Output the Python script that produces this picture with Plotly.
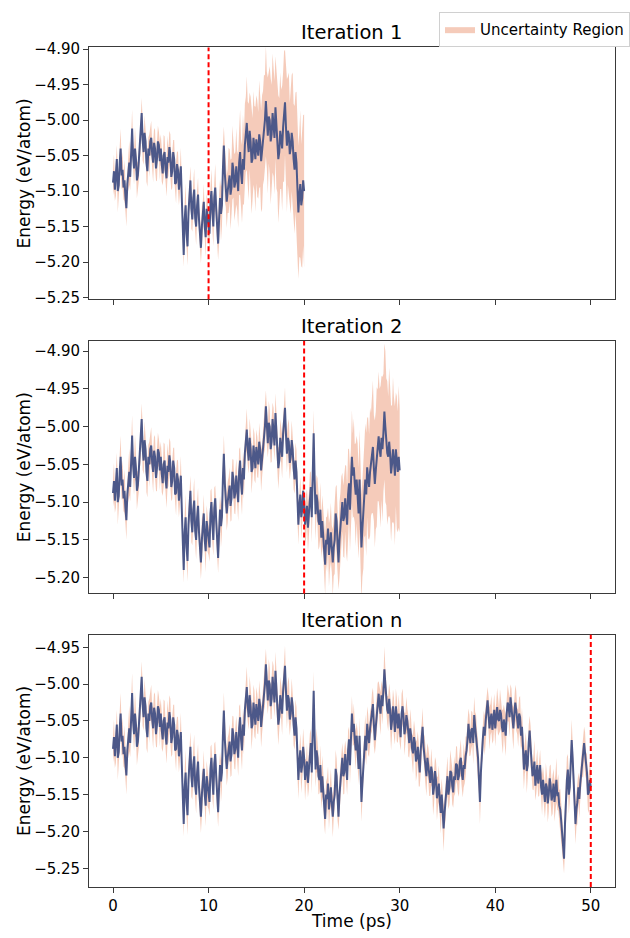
import plotly.graph_objects as go

# ---------------- data ----------------
dt = 0.1  # ps sampling of the digitised trajectory

energy_mean = [
    -5.088, -5.072, -5.098, -5.080, -5.055, -5.100, -5.092, -5.060, -5.040, -5.078,
    -5.070, -5.095, -5.085, -5.108, -5.124, -5.090, -5.072, -5.060, -5.080, -5.045,
    -5.012, -5.050, -5.068, -5.040, -5.055, -5.085, -5.078, -5.058, -5.040, -5.022,
    -4.990, -5.028, -5.045, -5.018, -5.030, -5.060, -5.072, -5.040, -5.050, -5.030,
    -5.025, -5.048, -5.060, -5.032, -5.040, -5.068, -5.055, -5.030, -5.035, -5.058,
    -5.040, -5.062, -5.075, -5.050, -5.045, -5.070, -5.082, -5.052, -5.060, -5.038,
    -5.048, -5.080, -5.072, -5.045, -5.055, -5.090, -5.088, -5.062, -5.070, -5.098,
    -5.085, -5.065, -5.110, -5.150, -5.190, -5.140, -5.120, -5.160, -5.178, -5.130,
    -5.100, -5.085, -5.125, -5.140, -5.110, -5.098, -5.138, -5.150, -5.120, -5.105,
    -5.140, -5.160, -5.180, -5.150, -5.134, -5.115, -5.150, -5.165, -5.125, -5.140,
    -5.147, -5.160, -5.115, -5.100, -5.130, -5.150, -5.108, -5.095, -5.125, -5.150,
    -5.174, -5.140, -5.110, -5.132, -5.120, -5.070, -5.036, -5.075, -5.090, -5.115,
    -5.100, -5.085, -5.078, -5.105, -5.095, -5.060, -5.070, -5.095, -5.088, -5.065,
    -5.085, -5.100, -5.060, -5.045, -5.075, -5.090, -5.055, -5.070, -5.035, -5.020,
    -5.004, -5.030, -5.045, -5.015, -5.030, -5.060, -5.055, -5.025, -5.040, -5.055,
    -5.027, -5.040, -5.050, -5.020, -5.030, -5.058, -5.045, -5.025, -5.010, -5.000,
    -4.973, -5.000, -5.022, -4.995, -5.000, -5.030, -5.020, -4.990, -5.005, -5.025,
    -4.982, -5.012, -5.030, -5.055, -5.045, -5.015, -5.027, -5.040, -5.010, -4.995,
    -4.975, -5.010, -5.036, -5.015, -5.020, -5.048, -5.040, -5.018, -5.030, -5.055,
    -5.070, -5.045, -5.060, -5.095, -5.130, -5.105, -5.090, -5.120, -5.110, -5.085,
    -5.100, -5.130, -5.120, -5.105, -5.134, -5.115, -5.090, -5.080, -5.120, -5.060,
    -5.009, -5.070, -5.116, -5.090, -5.100, -5.125, -5.130, -5.110, -5.147, -5.125,
    -5.140, -5.165, -5.183, -5.150, -5.156, -5.135, -5.170, -5.155, -5.140, -5.162,
    -5.180, -5.160, -5.150, -5.115, -5.125, -5.155, -5.180, -5.150, -5.130, -5.112,
    -5.100, -5.125, -5.120, -5.095, -5.110, -5.130, -5.090, -5.075, -5.110, -5.080,
    -5.040, -5.065, -5.054, -5.075, -5.090, -5.070, -5.094, -5.115, -5.070, -5.120,
    -5.160, -5.135, -5.110, -5.085, -5.070, -5.090, -5.054, -5.068, -5.080, -5.060,
    -5.050, -5.038, -5.027, -5.055, -5.076, -5.058, -5.040, -5.025, -5.013, -5.030,
    -5.040, -5.015, -5.030, -5.008, -4.980, -5.000, -5.020, -5.035, -5.040, -5.020,
    -5.036, -5.062, -5.050, -5.030, -5.045, -5.065, -5.030, -5.048, -5.060, -5.040,
    -5.058, -5.072, -5.040, -5.030, -5.045, -5.068, -5.060, -5.042, -5.050, -5.070,
    -5.080, -5.060, -5.070, -5.088, -5.094, -5.072, -5.080, -5.105, -5.100, -5.085,
    -5.110, -5.120, -5.090, -5.075, -5.058, -5.085, -5.100, -5.115, -5.125, -5.100,
    -5.110, -5.125, -5.134, -5.112, -5.120, -5.150, -5.140, -5.118, -5.130, -5.155,
    -5.147, -5.135, -5.160, -5.175, -5.150, -5.168, -5.196, -5.175, -5.160, -5.140,
    -5.125, -5.150, -5.140, -5.118, -5.120, -5.138, -5.147, -5.125, -5.130, -5.108,
    -5.110, -5.130, -5.125, -5.105, -5.100, -5.122, -5.130, -5.110, -5.115, -5.098,
    -5.090, -5.075, -5.054, -5.070, -5.080, -5.062, -5.060, -5.080, -5.042, -5.058,
    -5.070, -5.085, -5.100, -5.130, -5.160, -5.120, -5.090, -5.075, -5.058, -5.070,
    -5.050, -5.035, -5.022, -5.040, -5.060, -5.048, -5.040, -5.062, -5.049, -5.035,
    -5.060, -5.045, -5.031, -5.048, -5.050, -5.035, -5.040, -5.058, -5.065, -5.048,
    -5.058, -5.070, -5.040, -5.025, -5.030, -5.045, -5.018, -5.032, -5.050, -5.060,
    -5.040, -5.025, -5.036, -5.050, -5.060, -5.040, -5.045, -5.070, -5.058, -5.085,
    -5.116, -5.100, -5.090, -5.118, -5.110, -5.080, -5.063, -5.085, -5.100, -5.125,
    -5.120, -5.105, -5.138, -5.122, -5.110, -5.135, -5.125, -5.110, -5.140, -5.150,
    -5.130, -5.148, -5.160, -5.135, -5.140, -5.162, -5.150, -5.128, -5.138, -5.158,
    -5.150, -5.135, -5.160, -5.145, -5.130, -5.152, -5.147, -5.165, -5.170, -5.185,
    -5.200, -5.215, -5.237, -5.190, -5.150, -5.130, -5.116, -5.150, -5.140, -5.105,
    -5.076, -5.100, -5.130, -5.165, -5.190, -5.170, -5.160, -5.140, -5.156, -5.135,
    -5.120, -5.105, -5.100, -5.080, -5.094, -5.110, -5.120, -5.150, -5.147, -5.130,
    -5.140,
]

# half-width of the uncertainty band in the final (well-sampled) iteration
unc_n = [
    0.018, 0.024, 0.016, 0.027, 0.020, 0.030, 0.017, 0.023, 0.028, 0.019,
    0.025, 0.017, 0.029, 0.021, 0.026, 0.016, 0.024, 0.031, 0.019, 0.022,
    0.027, 0.018, 0.023, 0.030, 0.017, 0.025, 0.020, 0.028, 0.016, 0.024,
    0.021, 0.029, 0.018, 0.025, 0.019, 0.027, 0.022, 0.016, 0.030, 0.020,
    0.024, 0.018, 0.028, 0.021, 0.026, 0.017, 0.031, 0.022, 0.019, 0.027,
    0.020, 0.025, 0.017, 0.029, 0.022, 0.018, 0.026, 0.030, 0.019, 0.023,
    0.028, 0.019, 0.024, 0.017, 0.027, 0.021, 0.030, 0.018, 0.025, 0.022,
    0.019, 0.026, 0.021, 0.029, 0.017, 0.024, 0.031, 0.020, 0.027, 0.018,
    0.025, 0.020, 0.028, 0.017, 0.023, 0.030, 0.019, 0.026, 0.021, 0.024,
    0.018, 0.027, 0.022, 0.029, 0.019, 0.025, 0.017, 0.028, 0.021, 0.026,
    0.023, 0.019, 0.030, 0.018, 0.025, 0.021, 0.027, 0.017, 0.024, 0.029,
    0.020, 0.026, 0.018, 0.028, 0.022, 0.016, 0.025, 0.030, 0.019, 0.023,
    0.027, 0.018, 0.024, 0.021, 0.029, 0.017, 0.026, 0.020, 0.028, 0.022,
    0.019, 0.025, 0.030, 0.018, 0.023, 0.027, 0.020, 0.026, 0.017, 0.024,
    0.028, 0.021, 0.017, 0.026, 0.022, 0.029, 0.019, 0.024, 0.031, 0.020,
    0.023, 0.027, 0.018, 0.025, 0.020, 0.028, 0.022, 0.017, 0.026, 0.030,
    0.021, 0.025, 0.019, 0.029, 0.023, 0.018, 0.027, 0.022, 0.030, 0.020,
    0.026, 0.018, 0.024, 0.028, 0.017, 0.025, 0.021, 0.029, 0.019, 0.023,
    0.027, 0.020, 0.025, 0.018, 0.030, 0.022, 0.017, 0.026, 0.021, 0.028,
    0.019, 0.024, 0.029, 0.021, 0.026, 0.017, 0.023, 0.028, 0.020, 0.025,
    0.022, 0.028, 0.018, 0.025, 0.020, 0.027, 0.023, 0.019, 0.029, 0.021,
    0.026, 0.017, 0.024, 0.030, 0.020, 0.025, 0.018, 0.027, 0.022, 0.028,
    0.020, 0.026, 0.021, 0.017, 0.029, 0.023, 0.027, 0.019, 0.025, 0.018,
    0.028, 0.022, 0.019, 0.026, 0.024, 0.030, 0.018, 0.025, 0.021, 0.027,
    0.020, 0.025, 0.029, 0.018, 0.023, 0.021, 0.027, 0.017, 0.026, 0.022,
    0.024, 0.019, 0.028, 0.022, 0.026, 0.018, 0.030, 0.021, 0.025, 0.020,
    0.027, 0.021, 0.017, 0.025, 0.029, 0.020, 0.024, 0.028, 0.019, 0.023,
    0.018, 0.026, 0.022, 0.030, 0.019, 0.025, 0.021, 0.027, 0.017, 0.024,
    0.029, 0.020, 0.025, 0.018, 0.031, 0.022, 0.026, 0.019, 0.024, 0.021,
    0.025, 0.028, 0.019, 0.023, 0.027, 0.017, 0.024, 0.030, 0.020, 0.026,
    0.022, 0.018, 0.027, 0.024, 0.019, 0.029, 0.021, 0.025, 0.017, 0.028,
    0.020, 0.026, 0.022, 0.018, 0.028, 0.023, 0.019, 0.027, 0.024, 0.021,
    0.029, 0.019, 0.025, 0.021, 0.026, 0.018, 0.030, 0.022, 0.027, 0.020,
    0.024, 0.027, 0.018, 0.025, 0.020, 0.028, 0.023, 0.019, 0.026, 0.030,
    0.021, 0.025, 0.019, 0.028, 0.022, 0.026, 0.031, 0.020, 0.024, 0.018,
    0.027, 0.020, 0.024, 0.029, 0.018, 0.025, 0.021, 0.027, 0.019, 0.023,
    0.026, 0.018, 0.028, 0.021, 0.025, 0.019, 0.024, 0.030, 0.020, 0.027,
    0.019, 0.024, 0.021, 0.028, 0.017, 0.026, 0.022, 0.029, 0.025, 0.020,
    0.028, 0.021, 0.025, 0.019, 0.030, 0.023, 0.018, 0.026, 0.022, 0.027,
    0.020, 0.027, 0.018, 0.024, 0.029, 0.021, 0.025, 0.019, 0.028, 0.022,
    0.025, 0.019, 0.026, 0.022, 0.017, 0.028, 0.021, 0.024, 0.030, 0.020,
    0.023, 0.028, 0.019, 0.025, 0.021, 0.027, 0.018, 0.026, 0.022, 0.029,
    0.020, 0.024, 0.027, 0.018, 0.025, 0.022, 0.029, 0.019, 0.026, 0.021,
    0.027, 0.021, 0.025, 0.030, 0.019, 0.024, 0.020, 0.028, 0.023, 0.018,
    0.024, 0.029, 0.020, 0.026, 0.022, 0.018, 0.027, 0.021, 0.025, 0.028,
    0.019, 0.025, 0.022, 0.028, 0.020, 0.026, 0.023, 0.017, 0.029, 0.022,
    0.026, 0.020, 0.027, 0.023, 0.030, 0.019, 0.025, 0.021, 0.028, 0.024,
    0.022, 0.027, 0.020, 0.029, 0.024, 0.031, 0.021, 0.026, 0.019, 0.025,
    0.028, 0.021, 0.025, 0.019, 0.027, 0.023, 0.030, 0.020, 0.026, 0.022,
    0.024, 0.020, 0.027, 0.022, 0.029, 0.018, 0.025, 0.021, 0.028, 0.023,
    0.024,
]

# wider band where iteration 1 had not yet been explored (t = 10.1 .. 20.0 ps)
unc_iter1_tail = [
    0.026, 0.020, 0.031, 0.024, 0.028, 0.022, 0.033, 0.025, 0.029, 0.023,
    0.034, 0.027, 0.038, 0.030, 0.036, 0.027, 0.040, 0.032, 0.037, 0.031,
    0.046, 0.037, 0.049, 0.041, 0.052, 0.039, 0.047, 0.043, 0.054, 0.042,
    0.052, 0.046, 0.060, 0.048, 0.055, 0.063, 0.050, 0.058, 0.053, 0.066,
    0.056, 0.068, 0.054, 0.063, 0.072, 0.058, 0.066, 0.060, 0.074, 0.062,
    0.068, 0.061, 0.076, 0.064, 0.072, 0.080, 0.066, 0.074, 0.063, 0.078,
    0.068, 0.082, 0.066, 0.076, 0.089, 0.070, 0.084, 0.074, 0.080, 0.072,
    0.084, 0.072, 0.090, 0.076, 0.082, 0.070, 0.088, 0.077, 0.092, 0.074,
    0.080, 0.094, 0.076, 0.087, 0.072, 0.092, 0.082, 0.097, 0.078, 0.090,
    0.084, 0.100, 0.082, 0.094, 0.088, 0.104, 0.086, 0.098, 0.092, 0.108,
]

# wider band where iteration 2 had not yet been explored (t = 20.1 .. 30.0 ps)
unc_iter2_tail = [
    0.024, 0.030, 0.022, 0.033, 0.026, 0.029, 0.021, 0.034, 0.027, 0.031,
    0.028, 0.035, 0.026, 0.032, 0.038, 0.029, 0.036, 0.027, 0.034, 0.030,
    0.033, 0.040, 0.030, 0.037, 0.028, 0.042, 0.034, 0.039, 0.031, 0.044,
    0.038, 0.045, 0.035, 0.048, 0.040, 0.036, 0.050, 0.042, 0.046, 0.039,
    0.047, 0.054, 0.044, 0.058, 0.049, 0.060, 0.046, 0.055, 0.051, 0.062,
    0.056, 0.065, 0.052, 0.068, 0.058, 0.072, 0.060, 0.066, 0.055, 0.070,
    0.064, 0.078, 0.062, 0.074, 0.082, 0.066, 0.080, 0.070, 0.085, 0.068,
    0.076, 0.088, 0.070, 0.084, 0.078, 0.092, 0.074, 0.086, 0.080, 0.094,
    0.082, 0.096, 0.078, 0.090, 0.100, 0.084, 0.095, 0.080, 0.098, 0.086,
    0.090, 0.078, 0.096, 0.084, 0.092, 0.075, 0.088, 0.080, 0.094, 0.082,
]

panel_titles = ["Iteration 1", "Iteration 2", "Iteration n"]
explored_until = [10, 20, 50]      # ps, red dashed marker per panel
simulated_until = [20, 30, 50]     # ps, trajectory length per panel
x_ticks = [0, 10, 20, 30, 40, 50]
y_ticks = [
    [-4.90, -4.95, -5.00, -5.05, -5.10, -5.15, -5.20, -5.25],
    [-4.90, -4.95, -5.00, -5.05, -5.10, -5.15, -5.20],
    [-4.95, -5.00, -5.05, -5.10, -5.15, -5.20, -5.25],
]
y_ranges = [[-5.2525, -4.8975], [-5.2209, -4.8866], [-5.2754, -4.9330]]

# ---------------- figure ----------------
W, H = 630, 938
LINE_C = "#4c5889"
BAND_C = "rgba(236,160,130,0.55)"
AX_C = "#3a3a3a"
FONT = "DejaVu Sans"

time = [round(i * dt, 1) for i in range(len(energy_mean))]

def idx(t):
    return int(round(t / dt))

unc_panels = [
    unc_n[: idx(10) + 1] + unc_iter1_tail,
    unc_n[: idx(20) + 1] + unc_iter2_tail,
    unc_n,
]

# pixel geometry -> paper domains
x_dom = [90.7 / W, 625.6 / W]
y_px = [(41.0, 296.7), (339.0, 595.3), (637.3, 893.3)]
y_doms = [[1 - b / H, 1 - t / H] for (t, b) in y_px]

fig = go.Figure()
for k in range(3):
    n = idx(simulated_until[k]) + 1
    t = time[:n]
    m = energy_mean[:n]
    u = unc_panels[k][:n]
    lo = [a - b for a, b in zip(m, u)]
    hi = [a + b for a, b in zip(m, u)]
    xa = "x" if k == 0 else f"x{k+1}"
    ya = "y" if k == 0 else f"y{k+1}"
    fig.add_trace(go.Scatter(x=t, y=lo, mode="lines", line=dict(width=0, color=BAND_C),
                             xaxis=xa, yaxis=ya, showlegend=False, hoverinfo="skip"))
    fig.add_trace(go.Scatter(x=t, y=hi, mode="lines", line=dict(width=0, color=BAND_C),
                             fill="tonexty", fillcolor=BAND_C, xaxis=xa, yaxis=ya,
                             name="Uncertainty Region", showlegend=(k == 0),
                             hoverinfo="skip"))
    fig.add_trace(go.Scatter(x=t, y=m, mode="lines", line=dict(width=2, color=LINE_C),
                             xaxis=xa, yaxis=ya, showlegend=False))
    fig.add_shape(type="line", xref=xa, yref=f"{ya} domain",
                  x0=explored_until[k], x1=explored_until[k], y0=0, y1=1,
                  line=dict(color="#ff0000", width=2, dash="5px,3px"))

axis_common = dict(showline=True, linecolor=AX_C, linewidth=1, mirror=True,
                   ticks="outside", ticklen=5, tickwidth=1, tickcolor=AX_C,
                   showgrid=False, zeroline=False,
                   tickfont=dict(family=FONT, size=15, color="black"))

layout = dict(width=W, height=H, margin=dict(l=0, r=0, t=0, b=0),
              plot_bgcolor="white", paper_bgcolor="white",
              font=dict(family=FONT, color="black"),
              showlegend=True,
              legend=dict(x=447 / W, y=1 - 5 / H, xanchor="left", yanchor="top",
                          bgcolor="white", bordercolor="#d0d0d0", borderwidth=1,
                          font=dict(family=FONT, size=15, color="black")))
for k in range(3):
    xk = "xaxis" if k == 0 else f"xaxis{k+1}"
    yk = "yaxis" if k == 0 else f"yaxis{k+1}"
    layout[xk] = dict(axis_common, domain=x_dom, range=[-2.5, 52.5],
                      tickvals=x_ticks, showticklabels=(k == 2),
                      anchor="y" if k == 0 else f"y{k+1}")
    layout[yk] = dict(axis_common, domain=y_doms[k], range=y_ranges[k],
                      tickvals=y_ticks[k], tickformat=".2f",
                      anchor="x" if k == 0 else f"x{k+1}")
fig.update_layout(**layout)

annotations = []
xc = (x_dom[0] + x_dom[1]) / 2
for k in range(3):
    annotations.append(dict(text=panel_titles[k], xref="paper", yref="paper",
                            x=xc, y=y_doms[k][1] + 1.0 / H, xanchor="center",
                            yanchor="bottom", showarrow=False,
                            font=dict(family=FONT, size=19.5, color="black")))
    annotations.append(dict(text="Energy (eV/atom)", xref="paper", yref="paper",
                            x=24.5 / W, y=(y_doms[k][0] + y_doms[k][1]) / 2,
                            xanchor="center", yanchor="middle", textangle=-90,
                            showarrow=False,
                            font=dict(family=FONT, size=17, color="black")))
annotations.append(dict(text="Time (ps)", xref="paper", yref="paper",
                        x=xc, y=1 - 927.5 / H, xanchor="center", yanchor="middle",
                        showarrow=False, font=dict(family=FONT, size=17, color="black")))
fig.update_layout(annotations=annotations)

fig.write_html("out.html", config={"displayModeBar": False},
               post_script="document.body.style.margin='0';")
